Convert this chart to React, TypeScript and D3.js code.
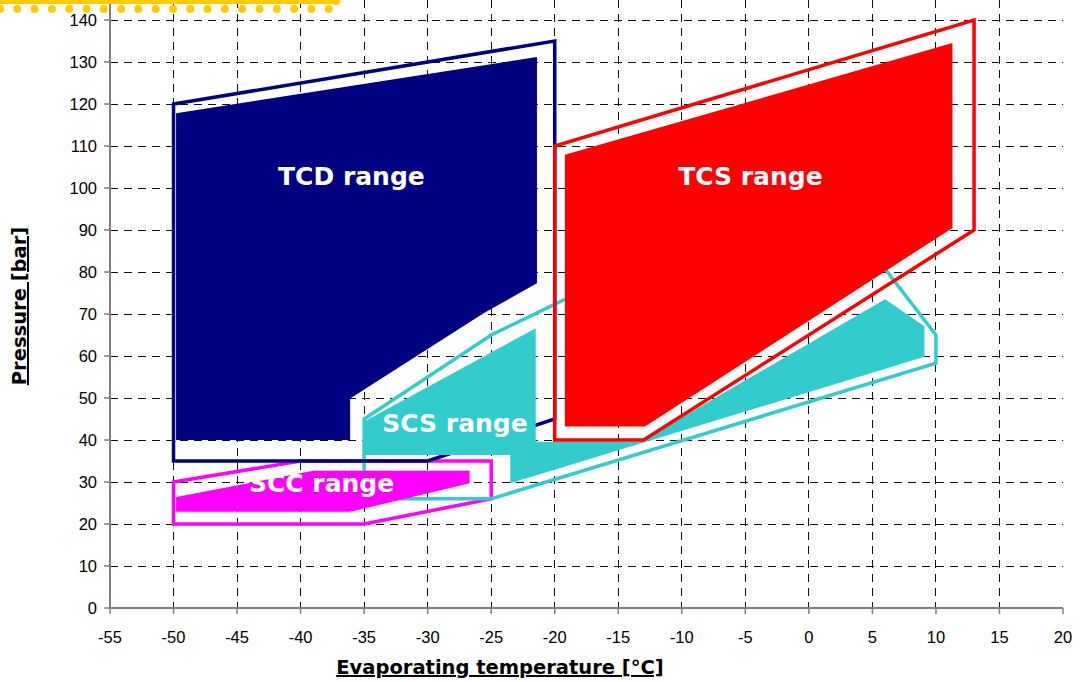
import React from 'react';
import * as d3 from 'd3';

// axis ticks
const xTicks = d3.range(-55, 21, 5);
const yTicks = d3.range(0, 141, 10);

// operating envelopes [evaporating temp °C, pressure bar]
const tcdOutline: [number, number][] = [[-50, 35], [-50, 120], [-20, 135], [-20, 45], [-30, 35]];
const tcdFill: [number, number][] = [[-49.8, 40], [-49.8, 117.8], [-21.4, 131.2], [-21.4, 77.3], [-25.6, 70.2], [-36.1, 49.9], [-36.1, 40]];

const tcsOutline: [number, number][] = [[-20, 40], [-20, 110], [13, 140], [13, 90], [-13, 40]];
const tcsFill: [number, number][] = [[-19.2, 43.2], [-19.2, 107.9], [11.3, 134.5], [11.3, 90.5], [-12.9, 43.2]];

const scsOutline: [number, number][] = [[-35, 26], [-35, 45], [-25, 65], [0.5, 102.3], [10, 65], [10, 58.3], [-25, 26]];
const scsFill: [number, number][] = [[-35, 44.4], [-21.5, 66.6], [-21.5, 39.6], [-13.3, 39.6], [6, 73.5], [9.1, 67.1], [9.1, 59.8], [-23.5, 29.7], [-23.5, 36.4], [-35, 36.4]];

const sccOutline: [number, number][] = [[-50, 20], [-35, 20], [-25, 26], [-25, 35], [-40, 35], [-50, 30]];
const sccFill: [number, number][] = [[-49.8, 22.9], [-49.8, 26.4], [-39, 32.7], [-26.7, 32.7], [-26.7, 29.7], [-36.1, 22.9]];

const labelNames = ['TCD range', 'TCS range', 'SCS range', 'SCC range'];
const labelPos: [number, number][] = [[-36, 100.6], [-4.6, 100.6], [-27.85, 42], [-38.35, 27.7]];

const W = 1081;
const H = 682;
const left = 110;
const right = 1063;
const top = 20;
const bottom = 608;

export default function App() {
  const x = d3.scaleLinear().domain([-55, 20]).range([left, right]);
  const y = d3.scaleLinear().domain([0, 140]).range([bottom, top]);

  const line = d3
    .line<[number, number]>()
    .x((d) => x(d[0]))
    .y((d) => y(d[1]))
    .curve(d3.curveLinearClosed);

  const outline = (pts: [number, number][], color: string, w: number) => (
    <path d={line(pts) || ''} fill="none" stroke={color} strokeWidth={w} strokeLinejoin="miter" />
  );
  const fill = (pts: [number, number][], color: string) => <path d={line(pts) || ''} fill={color} stroke="none" />;

  const dots = d3.range(0, 20).map((i) => i * 17.3);

  return (
    <svg width={W} height={H} style={{ position: 'absolute', left: 0, top: 0, background: '#fff' }}>
      {/* grid */}
      <g stroke="#111" strokeWidth={1} strokeDasharray="8,6" shapeRendering="crispEdges">
        {yTicks
          .filter((t) => t > 0)
          .map((t) => (
            <line key={'h' + t} x1={left} x2={right} y1={y(t)} y2={y(t)} />
          ))}
        {xTicks
          .filter((t) => t > -55 && t < 20)
          .map((t) => (
            <line key={'v' + t} x1={x(t)} x2={x(t)} y1={0} y2={bottom} />
          ))}
      </g>

      {/* axes */}
      <g stroke="#808080" strokeWidth={2}>
        <line x1={left} x2={left} y1={0} y2={bottom + 1} />
        <line x1={left - 1} x2={right} y1={bottom} y2={bottom} />
        {yTicks.map((t) => (
          <line key={'yt' + t} x1={left - 6} x2={left} y1={y(t)} y2={y(t)} strokeWidth={1.5} />
        ))}
        {xTicks.map((t) => (
          <line key={'xt' + t} x1={x(t)} x2={x(t)} y1={bottom} y2={bottom + 6} strokeWidth={1.5} />
        ))}
      </g>
      <g fontFamily="'Liberation Sans', Arial, sans-serif" fontSize={16.5} fill="#000">
        {yTicks.map((t) => (
          <text key={'yl' + t} x={left - 13} y={y(t)} dy="0.36em" textAnchor="end">
            {t}
          </text>
        ))}
        {xTicks.map((t) => (
          <text key={'xl' + t} x={x(t)} y={bottom + 35} textAnchor="middle">
            {t}
          </text>
        ))}
      </g>

      {/* envelopes */}
      {outline(sccOutline, '#FF00FF', 3.5)}
      {outline(scsOutline, '#33CCCC', 3.5)}
      {outline(tcdOutline, '#000080', 3.5)}
      {fill(scsFill, '#33CCCC')}
      {outline(tcsOutline, '#FF0000', 3.5)}
      {fill(sccFill, '#FF00FF')}
      {fill(tcdFill, '#000080')}
      {fill(tcsFill, '#FF0000')}

      <g fontFamily="'DejaVu Sans', Verdana, sans-serif" fontWeight="bold" fontSize={25} fill="#fff" textAnchor="middle">
        {labelNames.map((name, i) => (
          <text key={name} x={x(labelPos[i][0])} y={y(labelPos[i][1])}>
            {name}
          </text>
        ))}
      </g>

      {/* axis titles */}
      <g fontFamily="'DejaVu Sans', Verdana, sans-serif" fontWeight="bold" fontSize={19.5} fill="#000" textDecoration="underline">
        <text x={500} y={674} textAnchor="middle">
          Evaporating temperature [°C]
        </text>
        <text transform="translate(26,306) rotate(-90)" textAnchor="middle">
          Pressure [bar]
        </text>
      </g>

      {/* yellow frame remnant */}
      <g fill="#FFCC00">
        <rect x={0} y={0} width={336} height={4} />
        <circle cx={336} cy={1} r={4} />
        {dots.map((d) => (
          <circle key={d} cx={d} cy={9} r={4} />
        ))}
      </g>
    </svg>
  );
}
